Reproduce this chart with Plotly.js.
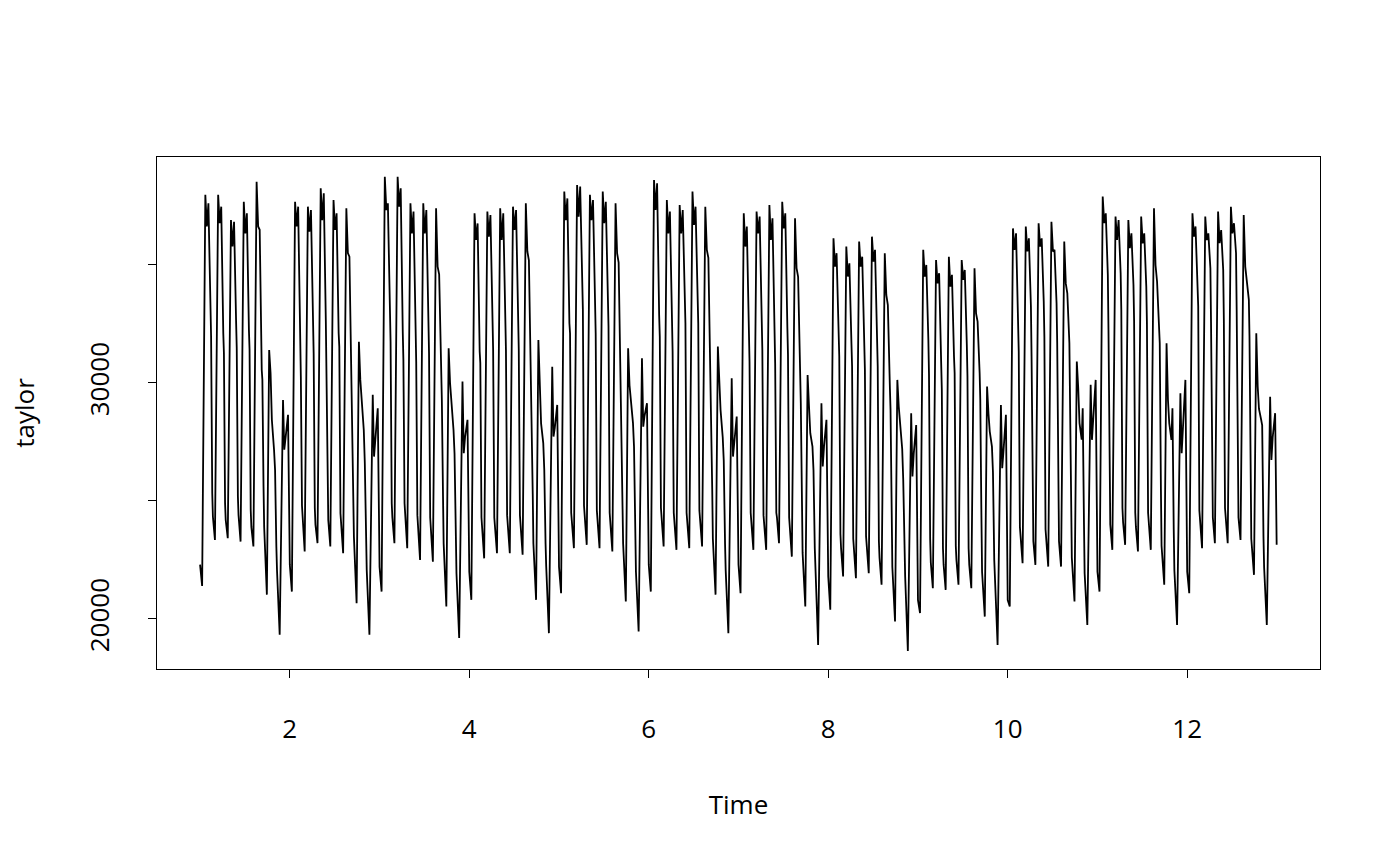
<!DOCTYPE html>
<html>
<head>
<meta charset="utf-8">
<script src="https://cdn.plot.ly/plotly-3.0.1.min.js"></script>
<style>html,body{margin:0;padding:0;background:#fff;}</style>
</head>
<body>
<div id="chart" style="width:1400px;height:866px;"></div>
<script>
// taylor: half-hourly electricity demand, 12 weeks (values at key points of each day)
// Positions inside a day (fraction of the day) where the values below were read
const phaseWeekday  = [0, 0.16, 0.41, 0.53, 0.65, 0.81, 0.86, 0.95];
const phaseSaturday = [0, 0.21, 0.39, 0.50, 0.60, 0.77, 0.85, 0.95];
const phaseSunday   = [0, 0.21, 0.47, 0.57, 0.67, 0.86];

const week1 = [
  [22300,21400,37970,36630,37610,32810,31960,25330],
  [24340,23350,37970,36770,37470,32110,31260,24900],
  [24200,23420,36900,35780,36830,32600,31470,25190],
  [24400,23280,37680,36340,37190,32250,31400,24620],
  [23900,23070,38530,36630,36490,30550,30130,25600],
  [23900,21030,31400,30410,28440,27170,26310,23070],
  [22080,19330,29280,27170,27730,28650]
];
const week2 = [
  [22300,21160,37680,36630,37470,31820,30270,24800],
  [24300,22860,37470,36410,37330,32110,31260,24700],
  [24000,23210,38250,36900,38040,32600,30550,24620],
  [24200,23070,37750,36480,37190,32110,31540,24480],
  [24000,22790,37400,35500,35350,30130,29420,25400],
  [23490,20670,31750,30130,29140,28010,26600,23200],
  [22070,19330,29500,26880,27700,28930]
];
const week3 = [
  [22200,21160,38740,37330,37610,32460,31750,24900],
  [24300,23210,38740,37470,38250,32180,30970,24900],
  [24300,23000,37610,36340,37260,31400,30900,24400],
  [23800,22500,37610,36340,37330,31680,31260,24300],
  [23700,22430,37400,34930,34600,30270,29280,25200],
  [23200,20530,31470,30000,29280,28010,27000,23000],
  [21940,19190,30060,27020,27700,28440]
];
const week4 = [
  [22000,20810,37190,36060,36760,31330,30840,24300],
  [23800,22570,37260,36200,37120,31750,31400,24300],
  [23900,22790,37400,36060,37190,32250,31400,24400],
  [23900,22790,37470,36480,37330,32530,31400,24400],
  [23900,22720,37610,35570,35200,30200,29420,25300],
  [23200,20810,31820,29420,28290,27450,26310,23200],
  [22220,19400,30690,27730,28100,29070]
];
const week5 = [
  [22200,21090,38110,36900,37820,32530,32100,24500],
  [24200,23000,38390,37050,38320,33380,33100,24800],
  [24300,23140,37970,36900,37750,32670,32100,24600],
  [24200,23000,38110,36770,37680,32810,32390,24500],
  [24000,22860,37610,35500,35100,29990,29280,25300],
  [23200,20740,31470,29900,29280,28300,27300,23100],
  [22000,19470,31050,28150,28600,29140]
];
const week6 = [
  [22300,21160,38600,37330,38460,32880,31960,24700],
  [24200,23070,37750,36340,37260,32320,31330,24500],
  [24100,22930,37540,36340,37330,32880,32530,24500],
  [24200,23000,38110,36700,37470,32880,32530,24600],
  [24200,23070,37470,35640,35300,30340,29850,25500],
  [23400,21030,31540,29800,28860,27700,26700,23200],
  [22070,19400,30200,26880,27600,28580]
];
const week7 = [
  [22300,21090,37190,35780,36630,32110,30900,24500],
  [24100,22930,37260,36340,37050,32250,31400,24400],
  [24100,22930,37540,36060,36980,31890,30830,24500],
  [24300,23210,37680,36550,37190,32390,31190,24300],
  [23800,22640,36980,34860,34500,30130,29140,25000],
  [22800,20530,30340,29000,27870,27300,26300,23000],
  [22070,18900,29140,26460,27300,28440]
];
const week8 = [
  [21800,20390,36130,34930,35500,31890,31120,23600],
  [23000,21800,35780,34510,35070,31680,30690,23400],
  [22900,21730,35990,34930,35350,31400,30550,23500],
  [23000,21940,36200,35140,35640,31540,30690,23300],
  [22600,21450,35500,33730,33300,29780,28860,24600],
  [22200,19890,30130,29000,28150,27200,25900,22500],
  [21800,18640,28720,26040,27000,28220]
];
const week9 = [
  [20800,20250,35640,34510,35000,31820,30340,23400],
  [22400,21300,35210,34220,34650,30830,29700,23000],
  [22300,21230,35350,34080,34580,31120,30410,23100],
  [22500,21450,35210,34370,34790,31610,30270,23000],
  [22300,21300,34860,32950,32600,30410,29280,24300],
  [22000,20100,29850,28700,27940,27300,26200,22500],
  [21800,18900,29070,26390,27100,28650]
];
const week10 = [
  [20800,20530,36550,35640,36340,33170,31330,23900],
  [23400,22360,36630,35570,36130,33240,31120,23900],
  [23300,22290,36770,35780,36130,33450,31960,23800],
  [23300,22220,36830,35570,35640,33380,31680,23800],
  [23300,22220,35990,34220,33800,31680,29700,25000],
  [22600,20740,30910,29800,28300,27600,28930,24000],
  [21940,19750,29920,27590,28500,30130]
];
const week11 = [
  [22000,21160,37900,36770,37190,34580,32250,24700],
  [24000,22930,37050,36060,36900,34650,33100,24700],
  [24100,23140,36900,35710,36340,34150,32600,24500],
  [23900,22860,37050,35920,36340,34080,32530,24500],
  [24000,22930,37400,35000,34300,32460,31680,25500],
  [23100,21450,31680,29280,28300,27590,28930,23800],
  [22070,19750,29560,27020,28000,30130]
];
const week12 = [
  [22000,21090,37190,36200,36630,34510,33240,24600],
  [24100,23000,37050,36060,36340,34860,32530,24700],
  [24300,23210,37260,35920,36480,34790,32670,24700],
  [24300,23210,37470,36340,36770,35500,33100,24800],
  [24300,23350,37120,34930,34400,33520,31960,25800],
  [23400,21870,32110,29850,28900,28440,28200,23500],
  [22200,19750,29420,26740,27700,28720]
];
const finalValue = 23140;

const xTickVals = [2, 4, 6, 8, 10, 12];
const yTickVals = [20000, 25000, 30000, 35000];
const yTickText = ['20000', '', '30000', ''];

const weeks = [week1, week2, week3, week4, week5, week6, week7, week8, week9, week10, week11, week12];
const xs = [], ys = [];
weeks.forEach(function (wk, wi) {
  wk.forEach(function (day, di) {
    const ph = di < 5 ? phaseWeekday : (di === 5 ? phaseSaturday : phaseSunday);
    day.forEach(function (v, k) {
      xs.push(1 + wi + (di + ph[k]) / 7);
      ys.push(v);
    });
  });
});
xs.push(1 + weeks.length - 1 / 336);
ys.push(finalValue);

const fontFam = 'Open Sans, DejaVu Sans, sans-serif';
const fsize = 26;
const trace = {
  x: xs, y: ys, type: 'scatter', mode: 'lines',
  line: { color: '#000000', width: 1.8 },
  hoverinfo: 'skip'
};

const layout = {
  width: 1400, height: 866,
  margin: { l: 157, r: 80, t: 157, b: 197, pad: 0 },
  paper_bgcolor: '#ffffff', plot_bgcolor: '#ffffff',
  showlegend: false,
  font: { family: fontFam, size: fsize, color: '#000000' },
  xaxis: {
    range: [0.52, 13.48],
    tickvals: xTickVals,
    ticks: 'outside', ticklen: 8, tickwidth: 1, tickcolor: '#000000',
    showline: true, mirror: true, linecolor: '#000000', linewidth: 1,
    showgrid: false, zeroline: false,
    ticklabelstandoff: 29,
    tickfont: { family: fontFam, size: fsize, color: '#000000' },
    title: { text: 'Time', font: { family: fontFam, size: fsize, color: '#000000' }, standoff: 50 }
  },
  yaxis: {
    range: [17880, 39575],
    tickvals: yTickVals, ticktext: yTickText,
    tickangle: -90,
    ticks: 'outside', ticklen: 8, tickwidth: 1, tickcolor: '#000000',
    showline: true, mirror: true, linecolor: '#000000', linewidth: 1,
    showgrid: false, zeroline: false,
    ticklabelstandoff: 29,
    tickfont: { family: fontFam, size: fsize, color: '#000000' },
    title: { text: 'taylor', font: { family: fontFam, size: fsize, color: '#000000' }, standoff: 38 }
  }
};

Plotly.newPlot('chart', [trace], layout, { staticPlot: true, displayModeBar: false });
</script>
</body>
</html>
